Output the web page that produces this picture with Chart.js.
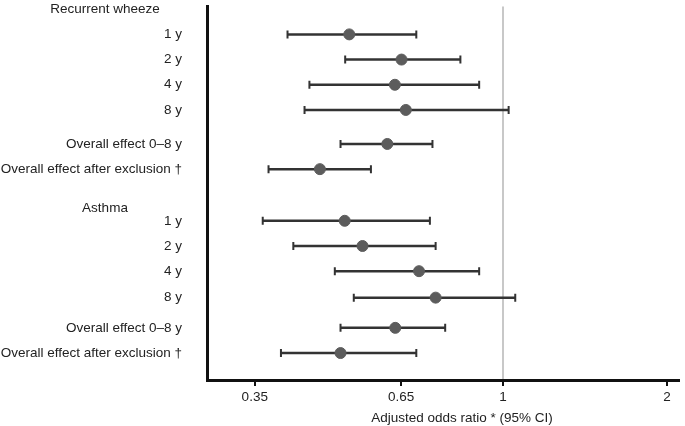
<!DOCTYPE html>
<html>
<head>
<meta charset="utf-8">
<script src="https://cdn.jsdelivr.net/npm/chart.js@4.4.0/dist/chart.umd.min.js"></script>
<style>body{margin:0;background:#fff}</style>
</head>
<body>
<canvas id="forestChart" width="685" height="426"></canvas>
<script>
// rows of the forest plot (top to bottom)
const rowLabels = ['1 y','2 y','4 y','8 y','Overall effect 0\u20138 y','Overall effect after exclusion \u2020',
                   '1 y','2 y','4 y','8 y','Overall effect 0\u20138 y','Overall effect after exclusion \u2020'];
const rowPos = [1, 2, 3, 4, 5.35, 6.35, 8.4, 9.4, 10.4, 11.45, 12.65, 13.65];
const oddsRatio = [0.522, 0.651, 0.633, 0.663, 0.613, 0.461, 0.512, 0.552, 0.701, 0.752, 0.634, 0.503];
const lowerCI   = [0.402, 0.513, 0.441, 0.432, 0.503, 0.371, 0.362, 0.412, 0.491, 0.532, 0.503, 0.391];
const upperCI   = [0.693, 0.835, 0.904, 1.024, 0.742, 0.572, 0.734, 0.752, 0.904, 1.053, 0.783, 0.693];
const groupNames = ['Recurrent wheeze', 'Asthma'];
const groupPos = [0.01, 7.92];
const xTicks = [0.35, 0.65, 1, 2];

const FONT = '"Liberation Sans", Arial, sans-serif';
const TEXT = '#222';
const FSIZE = 13.5;

const forestCtx = document.getElementById('forestChart');

const errorBars = {
  id: 'errorBars',
  beforeDatasetsDraw(chart) {
    const c = chart.ctx, xs = chart.scales.x, ys = chart.scales.y;
    c.save();
    c.strokeStyle = '#333';
    for (let i = 0; i < rowPos.length; i++) {
      const y = ys.getPixelForValue(rowPos[i]);
      const x1 = xs.getPixelForValue(lowerCI[i]);
      const x2 = xs.getPixelForValue(upperCI[i]);
      c.lineWidth = 2.5;
      c.beginPath();
      c.moveTo(x1, y); c.lineTo(x2, y);
      c.stroke();
      c.lineWidth = 2;
      c.beginPath();
      c.moveTo(x1, y - 4); c.lineTo(x1, y + 4);
      c.moveTo(x2, y - 4); c.lineTo(x2, y + 4);
      c.stroke();
    }
    c.restore();
  }
};

const extraText = {
  id: 'extraText',
  afterDraw(chart) {
    const c = chart.ctx, ys = chart.scales.y;
    c.save();
    c.font = FSIZE + 'px ' + FONT;
    c.fillStyle = TEXT;
    c.textAlign = 'center';
    c.textBaseline = 'middle';
    groupNames.forEach((g, i) => c.fillText(g, 105, ys.getPixelForValue(groupPos[i])));
    c.fillText('Adjusted odds ratio * (95% CI)', 462, 418);
    c.restore();
  }
};

new Chart(forestCtx, {
  type: 'scatter',
  data: {
    datasets: [{
      data: oddsRatio.map((v, i) => ({x: v, y: rowPos[i]})),
      pointStyle: 'circle',
      pointRadius: 5.5,
      backgroundColor: '#5c5c5c',
      borderColor: '#5c5c5c',
      borderWidth: 1
    }]
  },
  options: {
    responsive: false,
    animation: false,
    layout: {padding: {top: 5, right: 5, left: 0, bottom: 0}},
    plugins: {legend: {display: false}, tooltip: {enabled: false}},
    scales: {
      x: {
        type: 'logarithmic',
        min: 0.286,
        max: 2.1,
        afterBuildTicks: s => { s.ticks = xTicks.map(v => ({value: v})); },
        afterFit: s => { s.height = 46; s.paddingLeft = 0; s.paddingRight = 0; },
        ticks: {
          autoSkip: false,
          maxRotation: 0,
          padding: 3,
          color: TEXT,
          font: {family: FONT, size: FSIZE},
          callback: v => String(v)
        },
        grid: {
          color: ctx => (ctx.tick && ctx.tick.value === 1) ? '#c8c8c8' : 'rgba(0,0,0,0)',
          lineWidth: 2,
          tickColor: '#111',
          tickLength: 6,
          tickWidth: 2
        },
        border: {color: '#111', width: 3}
      },
      y: {
        type: 'linear',
        reverse: true,
        min: -0.107,
        max: 14.72,
        afterBuildTicks: s => { s.ticks = rowPos.map(v => ({value: v})); },
        afterFit: s => { s.width = 207; s.paddingTop = 0; s.paddingBottom = 0; },
        ticks: {
          autoSkip: false,
          padding: 25,
          color: TEXT,
          font: {family: FONT, size: FSIZE},
          callback: (v, i) => rowLabels[i]
        },
        grid: {display: false, drawTicks: false},
        border: {color: '#111', width: 3}
      }
    }
  },
  plugins: [errorBars, extraText]
});
</script>
</body>
</html>
